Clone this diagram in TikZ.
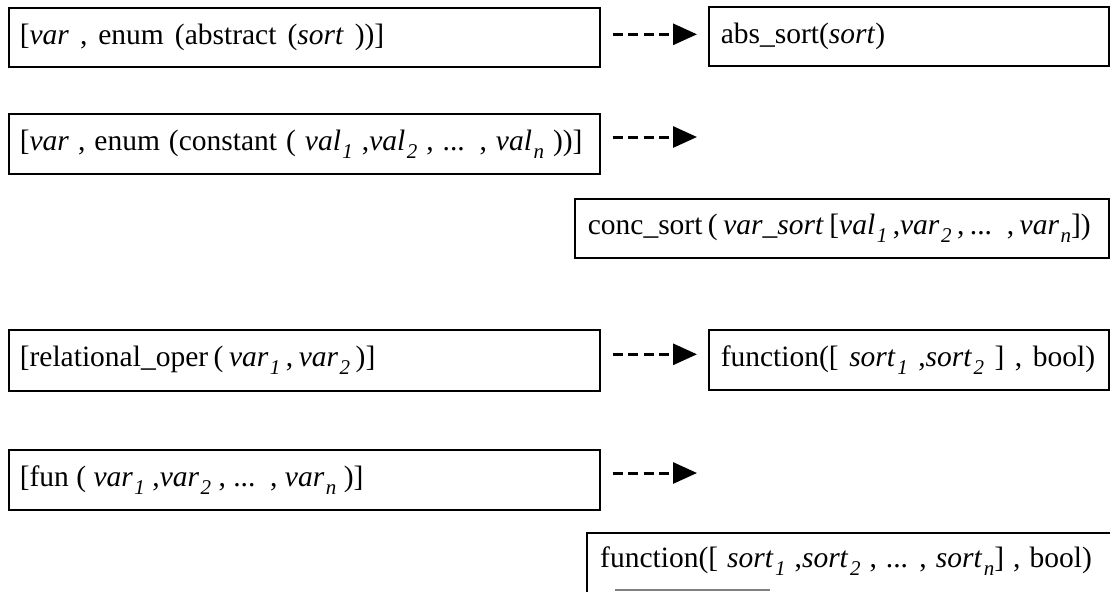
\documentclass[tikz,border=0pt]{standalone}
\usepackage{fontspec}
\setmainfont{Liberation Serif}
\usetikzlibrary{arrows.meta}
\newcommand{\sbs}[1]{\kern1.5pt\raisebox{-8pt}{\fontsize{21}{21}\selectfont\textit{#1}}}
\newcommand{\boxline}[2]{\mbox{\spaceskip=#1\relax #2}}
\tikzset{
  box/.style={draw, line width=1.6pt, inner ysep=0pt, inner xsep=11pt, anchor=north west, align=left,
    font=\fontsize{29.5}{33}\selectfont},
  txt/.style={inner sep=0pt, anchor=west, font=\fontsize{29.5}{33}\selectfont},
  arr/.style={dash pattern=on 10pt off 5.5pt, line width=3pt, -{Triangle[length=24pt,width=21pt]}},
  edge/.style={line width=1.6pt}
}
\begin{document}
\begin{tikzpicture}[x=1pt,y=-1pt]
\useasboundingbox (0,0) rectangle (1110,592);
% row 1
\node[box, minimum width=591pt, minimum height=59pt, text width=569pt] (A1) at (8,7)
  {\boxline{11pt}{[\textit{var} , enum (abstract (\textit{sort} ))]}};
\node[box, minimum width=400pt, minimum height=59pt, text width=376pt, inner xsep=12pt] (B1) at (708,6)
  {\boxline{7.4pt}{abs\_sort(\textit{sort})}};
\draw[arr, shorten <=12pt, shorten >=11pt] ([yshift=3pt]A1.east) -- ([yshift=3pt]A1.east -| B1.west);
% row 2
\node[box, minimum width=591pt, minimum height=60pt, text width=569pt] (A2) at (8,113)
  {\boxline{9pt}{[\textit{var} , enum (constant ( \textit{val}\sbs{1} ,\textit{val}\sbs{2} , ... , \textit{val}\sbs{n} ))]}};
\coordinate (c2) at (697,137);
\draw[arr, shorten <=12pt] (A2.east |- c2) -- (c2);
\node[box, minimum width=534pt, minimum height=59pt, text width=508pt, inner xsep=13pt] (B2) at (574,198)
  {\boxline{5.5pt}{conc\_sort ( \textit{var\_sort} [\textit{val}\sbs{1} ,\textit{var}\sbs{2} , ... , \textit{var}\sbs{n}])}};
% row 3
\node[box, minimum width=591pt, minimum height=61pt, text width=569pt] (A3) at (8,329)
  {\boxline{5.5pt}{[relational\_oper ( \textit{var}\sbs{1} ,\ \textit{var}\sbs{2} )]}};
\node[box, minimum width=400pt, minimum height=60pt, text width=376pt, inner xsep=12pt] (B3) at (708,329)
  {\boxline{10.5pt}{function([ \textit{sort}\sbs{1} ,\textit{sort}\sbs{2} ] , bool)}};
\draw[arr, shorten <=12pt, shorten >=11pt] ([yshift=6pt]A3.east) -- ([yshift=6pt]A3.east -| B3.west);
% row 4
\node[box, minimum width=591pt, minimum height=60pt, text width=569pt] (A4) at (8,449)
  {\boxline{7.4pt}{[fun ( \textit{var}\sbs{1} ,\textit{var}\sbs{2} , ... , \textit{var}\sbs{n} )]}};
\coordinate (c4) at (697,473);
\draw[arr, shorten <=12pt] (A4.east |- c4) -- (c4);
\coordinate (B4tr) at (1110,533);
\coordinate (B4tl) at (587,533);
\coordinate (B4bl) at (587,592);
\draw[edge] (B4tr) -- (B4tl) -- (B4bl);
\node[txt] (B4) at (600,561)
  {\boxline{9pt}{function([ \textit{sort}\sbs{1} ,\textit{sort}\sbs{2} , ... , \textit{sort}\sbs{n}] , bool)}};
\coordinate (f1) at (615,590);
\coordinate (f2) at (770,590);
\draw[line width=1.5pt, gray] (f1) -- (f2);
\end{tikzpicture}
\end{document}
